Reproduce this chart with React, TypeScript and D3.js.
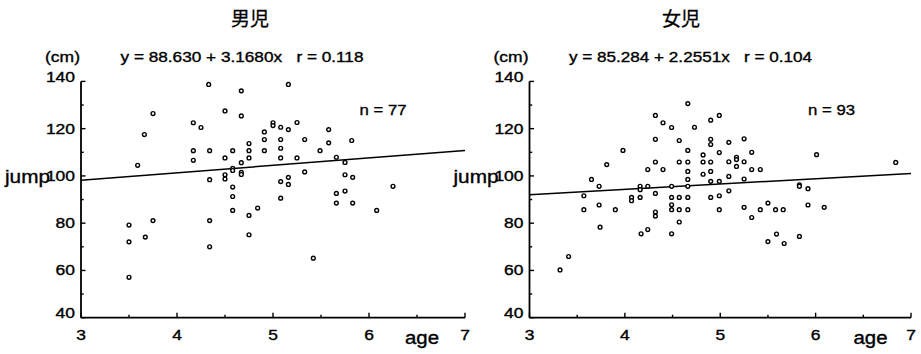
import React from "react";
import * as d3 from "d3";

// ---- data ----
const boysAge = [
  4.33, 4.67, 5.16, 3.75, 3.66, 3.59, 4.17, 4.25, 4.5, 4.67,
  4.17, 4.17, 4.34, 4.58, 4.75, 4.75, 4.75, 4.67, 4.5, 4.58,
  4.58, 4.67, 4.67, 4.5, 4.5, 4.34, 4.58, 4.58, 4.58, 4.84,
  4.75, 3.75, 4.34, 5.0, 5.0, 5.08, 5.16, 5.25, 4.91, 4.91,
  4.91, 5.08, 5.08, 5.08, 5.25, 5.33, 5.58, 5.58, 5.49, 5.82,
  5.66, 5.75, 5.33, 5.75, 5.83, 5.08, 5.16, 5.16, 5.08, 5.66,
  5.66, 5.75, 5.83, 6.25, 6.08, 3.5, 3.5, 3.67, 3.5, 4.34,
  4.75, 5.42,
];
const boysJump = [
  138.7, 136, 138.7, 126.4, 117.5, 104.5, 122.5, 120.5, 127.5, 125.4,
  110.7, 106.6, 110.7, 110.7, 113.7, 110.7, 107.6, 105.6, 107.6, 103.2,
  102.3, 101.5, 100.6, 100.5, 98.7, 98.4, 95.3, 91.3, 85.4, 86.4,
  83.3, 81.1, 81.1, 122.5, 121.3, 120.6, 119.6, 122.6, 118.6, 115.4,
  110.7, 115.4, 111.7, 107.6, 107.6, 115.4, 119.6, 114, 110.7, 115,
  107.9, 105.7, 101.7, 100.5, 99.4, 97.6, 99.4, 96.4, 90.6, 92.6,
  88.5, 93.6, 88.5, 95.6, 85.4, 79.2, 72.1, 74.1, 57.1, 70,
  75.1, 65.2,
];
const girlsAge = [
  4.66, 4.32, 4.4, 4.49, 4.73, 4.9, 4.99, 4.32, 4.57, 4.9,
  4.9, 4.99, 3.98, 3.81, 4.66, 4.82, 4.32, 4.57, 4.66, 4.82,
  4.9, 4.24, 4.4, 4.66, 4.82, 4.9, 3.65, 3.73, 4.66, 4.9,
  4.99, 4.16, 4.24, 4.16, 4.49, 4.66, 3.57, 4.07, 4.07, 4.16,
  4.32, 4.49, 4.57, 4.66, 4.9, 4.99, 3.57, 3.73, 3.9, 4.49,
  4.49, 4.57, 4.66, 4.99, 4.32, 4.32, 5.09, 5.25, 5.17, 5.33,
  5.09, 5.17, 5.17, 5.25, 5.33, 5.42, 5.09, 5.25, 5.83, 5.83,
  5.92, 6.01, 6.84, 5.09, 5.25, 5.42, 5.5, 5.58, 5.66, 5.92,
  6.09, 5.33, 5.5, 5.59, 5.67, 5.83, 3.74, 4.57, 4.49, 4.17,
  4.24, 3.41, 3.32,
];
const girlsJump = [
  130.6, 125.6, 122.5, 120.5, 120.6, 123.6, 125.6, 115.5, 115, 115.5,
  113.3, 109.9, 110.8, 104.8, 110.8, 108.9, 105.9, 105.9, 105.9, 105.9,
  105.9, 102.7, 102.7, 101.9, 100.7, 101.9, 98.5, 95.6, 98.5, 97.7,
  97.7, 95.6, 95.6, 94.2, 95.6, 95.6, 91.6, 90.9, 89.5, 90.9,
  92.6, 90.9, 90.9, 90.9, 90.9, 91.6, 85.7, 87.7, 85.7, 87.8,
  85.7, 85.7, 85.7, 85.7, 84.7, 83.0, 114.2, 115.7, 107.9, 110,
  106, 106.9, 104, 106, 102.7, 102.7, 99.8, 98.7, 96.2, 95.6,
  94.6, 109, 105.7, 93.7, 86.7, 85.7, 88.5, 85.7, 85.7, 87.7,
  86.7, 82.4, 72.2, 75.4, 71.4, 74.4, 78.3, 80.5, 75.5, 75.5,
  77.3, 65.9, 60.2,
];

const titles = ["男児", "女児"];
const intercepts = [88.63, 85.284];
const slopes = [3.168, 2.2551];
const equations = [
  "y = 88.630 + 3.1680x\u00a0\u00a0\u00a0r = 0.118",
  "y = 85.284 + 2.2551x\u00a0\u00a0\u00a0r = 0.104",
];
const nLabels = ["n = 77", "n = 93"];
const xTicks = [3, 4, 5, 6, 7];
const yTicks = [40, 60, 80, 100, 120, 140];
const xDomain = [3, 7];
const yDomain = [40, 140];

const FONT = "'Liberation Sans', Arial, Helvetica, sans-serif";

function T({ x, y, size, len, anchor = "start", children, family = FONT }: any) {
  return (
    <text
      x={x}
      y={y}
      fontSize={size}
      fontFamily={family}
      textAnchor={anchor}
      textLength={len}
      lengthAdjust={len ? "spacingAndGlyphs" : undefined}
      fill="#000"
      stroke="#000"
      strokeWidth={0.35}
    >
      {children}
    </text>
  );
}

function Panel({ idx, left, right, titleX, ages, jumps }: any) {
  const x = d3.scaleLinear().domain(xDomain).range([left, right]);
  const y = d3.scaleLinear().domain(yDomain).range([317.7, 81.4]);
  const minorX = d3.range(xDomain[0], xDomain[1] + 0.001, 0.5);
  const minorY = d3.range(yDomain[0], yDomain[1] + 0.001, 10);
  const a = intercepts[idx];
  const b = slopes[idx];
  const line = d3.line<number>().x((d) => x(d)).y((d) => y(a + b * d));
  const x0 = x(xDomain[0]);
  const y0 = y(yDomain[0]);
  return (
    <g>
      <text x={titleX} y={26} fontSize={19} textAnchor="middle" fontFamily="'Noto Sans CJK JP', sans-serif" stroke="#000" strokeWidth={0.3}>
        {titles[idx]}
      </text>
      <T x={x0 - 36} y={62} size={14} len={35}>(cm)</T>
      <T x={x0 + 39.5} y={62} size={14.5} len={243}>{equations[idx]}</T>
      <T x={x0 + 278.5} y={115} size={15.5} len={47}>{nLabels[idx]}</T>
      <T x={x0 - 76} y={183} size={18} len={45}>jump</T>
      <T x={x0 + 324} y={344} size={18} len={34}>age</T>

      {/* y axis */}
      <line x1={x0} x2={x0} y1={y(yDomain[1])} y2={y0} stroke="#000" strokeWidth={1.8} />
      {minorY.map((v) => (
        <line key={"my" + v} x1={x0} x2={x0 + (v % 20 === 0 ? 4.5 : 2.7)} y1={y(v)} y2={y(v)} stroke="#000" strokeWidth={1.4} />
      ))}
      {yTicks.map((v) => (
        <T key={"yl" + v} x={x0 - 6} y={y(v) + 5 - (v === yDomain[0] || v === yDomain[1] ? 4.5 : 0)} size={14} len={String(v).length * 9.7} anchor="end">
          {v}
        </T>
      ))}

      {/* x axis */}
      <line x1={x0} x2={x(xDomain[1])} y1={y0} y2={y0} stroke="#000" strokeWidth={1.8} />
      {minorX.map((v) => (
        <line key={"mx" + v} x1={x(v)} x2={x(v)} y1={y0} y2={y0 - (Number.isInteger(v) ? 5 : 3)} stroke="#000" strokeWidth={1.4} />
      ))}
      {xTicks.map((v) => (
        <T key={"xl" + v} x={x(v)} y={340} size={14} len={9.7} anchor="middle">
          {v}
        </T>
      ))}

      {/* regression line */}
      <path d={line(xDomain) || ""} fill="none" stroke="#000" strokeWidth={1.5} />

      {/* points */}
      {ages.map((ag: number, i: number) => (
        <circle key={i} cx={x(ag)} cy={y(jumps[i])} r={1.9} fill="#fff" stroke="#000" strokeWidth={1.4} />
      ))}
    </g>
  );
}

export default function App() {
  return (
    <svg
      width={921}
      height={354}
      style={{ position: "absolute", left: 0, top: 0, background: "#fff" }}
    >
      <rect width={921} height={354} fill="#fff" />
      <Panel idx={0} left={81} right={465} titleX={250} ages={boysAge} jumps={boysJump} />
      <Panel idx={1} left={529.5} right={911} titleX={681} ages={girlsAge} jumps={girlsJump} />
    </svg>
  );
}
